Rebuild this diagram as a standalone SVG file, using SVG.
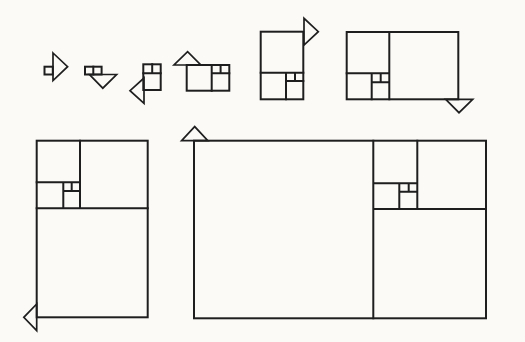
<svg xmlns="http://www.w3.org/2000/svg" width="525" height="342" viewBox="0 0 525 342">
  <style>
    .ln { fill: none; stroke: #1e1e1e; stroke-width: 2; stroke-linejoin: miter; stroke-linecap: square; }
    .tri { fill: none; stroke: #1e1e1e; stroke-width: 1.7; stroke-linejoin: miter; }
  </style>
  <rect width="525" height="342" fill="#fbfaf7"/>

  <!-- Stage 1: a single unit square -->
  <g id="stage1">
    <rect class="ln" x="44.5" y="66.7" width="8.3" height="7.8"/>
    <path class="tri" d="M53 53 L67.6 66.7 L53 80.6 Z"/>
  </g>

  <!-- Stage 2: two unit squares -->
  <g id="stage2">
    <rect class="ln" x="85" y="66.7" width="16.6" height="7.8"/>
    <path class="ln" d="M93.3 66.7 V74.5"/>
    <path class="tri" d="M89.5 74.5 L116.6 74.5 L102.8 88.2 Z"/>
  </g>

  <!-- Stage 3: 1,1,2 -->
  <g id="stage3">
    <rect class="ln" x="143.3" y="64.3" width="17.4" height="25.7"/>
    <path class="ln" d="M143.3 73.3 H160.7 M152.2 64.3 V73.3"/>
    <path class="tri" d="M144 78 L144 103.4 L130 90.7 Z"/>
  </g>

  <!-- Stage 4: 1,1,2,3 -->
  <g id="stage4">
    <rect class="ln" x="186.7" y="65" width="42.6" height="25.7"/>
    <path class="ln" d="M211.7 65 V90.7 M211.7 73.3 H229.3 M220.6 65 V73.3"/>
    <path class="tri" d="M174 65 L200.8 65 L187.6 51.6 Z"/>
  </g>

  <!-- Stage 5: 1,1,2,3,5 -->
  <g id="stage5">
    <rect class="ln" x="260.7" y="31.7" width="42.6" height="67.6"/>
    <path class="ln" d="M260.7 72.7 H303.3 M286 72.7 V99.3 M286 81 H303.3 M295 72.7 V81"/>
    <path class="tri" d="M304 18.3 L304 45 L318.3 31.7 Z"/>
  </g>

  <!-- Stage 6: 1,1,2,3,5,8 -->
  <g id="stage6">
    <rect class="ln" x="346.7" y="32" width="111.6" height="67.3"/>
    <path class="ln" d="M389.3 32 V99.3 M346.7 73.3 H389.3 M371.7 73.3 V99.3 M371.7 82.3 H389.3 M380.7 73.3 V82.3"/>
    <path class="tri" d="M445.7 99.3 L472.7 99.3 L459 112.7 Z"/>
  </g>

  <!-- Stage 7: 1,1,2,3,5,8,13 -->
  <g id="stage7">
    <rect class="ln" x="36.7" y="140.7" width="111" height="176.6"/>
    <path class="ln" d="M36.7 208.3 H147.7 M80 140.7 V208.3 M36.7 182.3 H80 M63.3 182.3 V208.3 M63.3 191 H80 M71.7 182.3 V191"/>
    <path class="tri" d="M36.7 304 L36.7 330.6 L23.8 317.3 Z"/>
  </g>

  <!-- Stage 8: 1,1,2,3,5,8,13,21 -->
  <g id="stage8">
    <rect class="ln" x="194" y="140.7" width="292" height="177.6"/>
    <path class="ln" d="M373.3 140.7 V318.3 M373.3 209 H486 M417.3 140.7 V209 M373.3 183.3 H417.3 M399.3 183.3 V209 M399.3 191.7 H417.3 M408.7 183.3 V191.7"/>
    <path class="tri" d="M181.6 140.7 L207.8 140.7 L194.7 126.6 Z"/>
  </g>
</svg>
